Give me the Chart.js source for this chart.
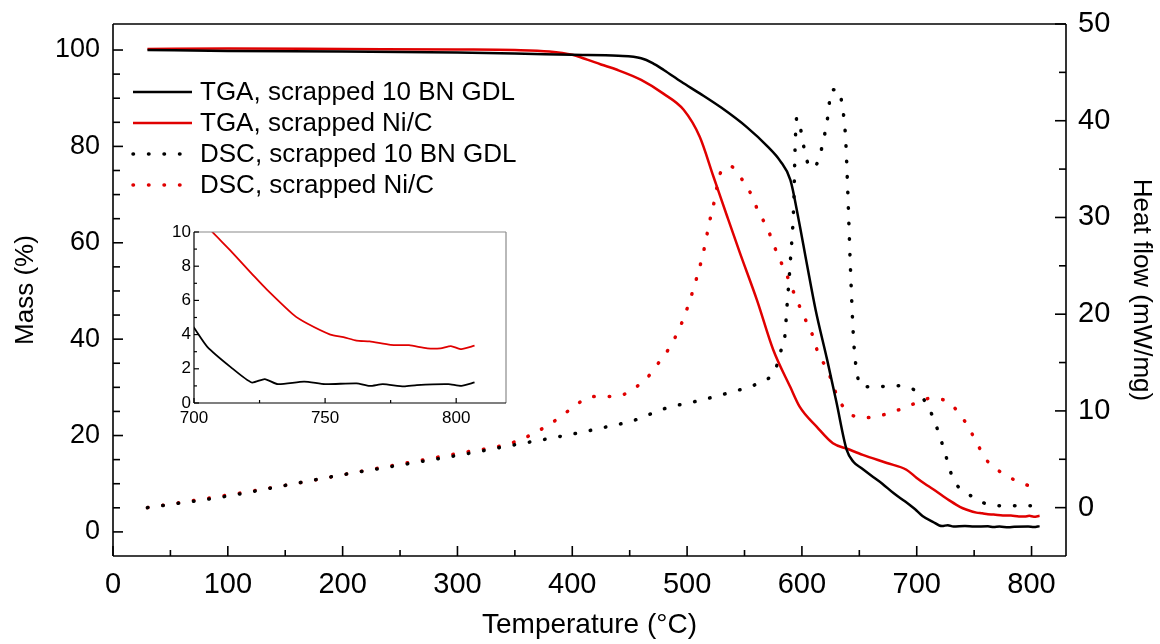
<!DOCTYPE html>
<html>
<head>
<meta charset="utf-8">
<script src="https://cdn.jsdelivr.net/npm/chart.js@4.4.1/dist/chart.umd.min.js"></script>
<style>
  html, body { margin: 0; padding: 0; background: #fff; }
  #wrap { position: relative; width: 1160px; height: 644px; }
  #main { position: absolute; left: 0; top: 0; }
  #inset { position: absolute; left: 150px; top: 222px; }
</style>
</head>
<body>
<div id="wrap">
  <canvas id="main" width="1160" height="644"></canvas>
  <canvas id="inset" width="370" height="215"></canvas>
</div>
<script>
// TGA, scrapped 10 BN GDL (mass %)
const tgaBnTemp = [30, 100, 200, 300, 350, 400, 440, 460, 470, 480, 495, 511, 530, 552, 570, 581, 590, 597, 604, 612, 622, 630, 639, 645, 652, 662, 670, 680, 690, 697, 700, 705, 714, 722, 727, 732, 742, 750, 762, 767, 772, 780, 785, 797, 802, 807];
const tgaBnMass = [100, 99.8, 99.7, 99.5, 99.3, 99.0, 98.8, 98.3, 97.3, 95.8, 93.4, 91, 88, 84, 80, 77, 73, 65, 56, 46, 35.7, 27, 17, 14.5, 13.2, 11.4, 10.0, 8.0, 6.3, 5.0, 4.4, 3.3, 2.1, 1.2, 1.4, 1.1, 1.25, 1.1, 1.15, 1.0, 1.1, 0.97, 1.05, 1.1, 1.0, 1.2];

// TGA, scrapped Ni/C (mass %)
const tgaNiTemp = [30, 100, 200, 300, 350, 380, 400, 413, 425, 439, 460, 479, 497, 511, 523, 535, 546, 561, 575, 590, 598, 613, 627, 640, 653, 674, 691, 700, 707, 714, 723, 728, 738, 743, 752, 757, 762, 767, 775, 782, 789, 794, 798, 802, 807];
const tgaNiMass = [100.2, 100.3, 100.2, 100.1, 100.0, 99.7, 99.0, 98.0, 97.0, 95.9, 93.8, 91, 87.6, 82, 73.7, 65.4, 57.9, 48, 37.8, 30, 26, 21.8, 18.4, 17.2, 16, 14.3, 12.9, 11.2, 10.0, 8.9, 7.4, 6.6, 5.15, 4.66, 4.0, 3.85, 3.65, 3.6, 3.4, 3.38, 3.2, 3.2, 3.33, 3.15, 3.35];

// DSC, scrapped 10 BN GDL (heat flow mW/mg)
const dscBnTemp = [30, 100, 150, 200, 250, 300, 350, 400, 424, 453, 482, 508, 537, 564, 577, 581, 585, 587, 590, 593, 594, 595.5, 598.5, 604, 610, 616, 622, 626, 632, 635, 638, 640, 642, 645, 648, 652, 665, 680, 694, 706, 714, 723, 732, 744, 758, 773, 790, 799];
const dscBnHeat = [0, 1.2, 2.3, 3.4, 4.4, 5.4, 6.5, 7.6, 8.2, 9.0, 10.3, 11.0, 11.9, 13.0, 14.3, 16, 17.6, 20.8, 25.6, 31.8, 37, 40.3, 39.3, 36, 35.1, 36.6, 40, 43.2, 43.2, 41.6, 38.3, 32.5, 25.6, 17.4, 13.9, 12.5, 12.5, 12.6, 12.4, 11.2, 9.4, 6.3, 2.9, 1.5, 0.5, 0.2, 0.2, 0.2];

// DSC, scrapped Ni/C (heat flow mW/mg)
const dscNiTemp = [30, 100, 150, 200, 250, 300, 350, 380, 400, 412, 424, 439, 452, 465, 476, 485, 492, 498, 507, 514, 520, 523, 529, 537.5, 548, 557, 562, 570, 575, 581, 587, 592, 598, 604, 610, 614, 622, 632, 643, 656, 671, 684, 699, 712, 726, 738, 746, 754, 762, 777, 790, 805];
const dscNiHeat = [0, 1.3, 2.3, 3.4, 4.5, 5.6, 6.8, 8.6, 10.3, 11.3, 11.5, 11.5, 12.2, 13.4, 15.1, 16.6, 18.2, 19.9, 23.2, 26.3, 29.8, 31.3, 34.6, 35.3, 33.9, 32.1, 30.6, 28.9, 27.3, 25.6, 24, 22.5, 20.8, 19.2, 17.6, 16, 14.3, 11.2, 9.6, 9.3, 9.6, 10.1, 10.8, 11.3, 11.0, 9.6, 8.1, 6.3, 4.75, 3.4, 2.6, 2.0];

const seriesLabels = ['TGA, scrapped 10 BN GDL', 'TGA, scrapped Ni/C', 'DSC, scrapped 10 BN GDL', 'DSC, scrapped Ni/C'];

const xTicks = [0, 100, 200, 300, 400, 500, 600, 700, 800];
const massTicks = [0, 20, 40, 60, 80, 100];
const heatTicks = [0, 10, 20, 30, 40, 50];
const insetXTicks = [700, 750, 800];
const insetYTicks = [0, 2, 4, 6, 8, 10];

const RED = '#e00000';
const BLACK = '#000000';
const SANS = "'Liberation Sans', Arial, sans-serif";

function pts(xs, ys) { return xs.map((x, i) => ({x: x, y: ys[i]})); }
function fixedTicks(list) { return scale => { scale.ticks = list.map(v => ({value: v})); }; }
// fixed box size, and no extra room for overhanging labels
function boxSize(w, h) {
  return s => {
    if (w !== null) s.width = w;
    if (h !== null) s.height = h;
    s.paddingTop = 0; s.paddingBottom = 0; s.paddingLeft = 0; s.paddingRight = 0;
  };
}

// frame + inward tick marks
const frameTicks = {
  id: 'frameTicks',
  afterDatasetsDraw(chart, args, opts) {
    const ctx = chart.ctx, a = chart.chartArea;
    ctx.save();
    ctx.lineWidth = opts.lineWidth;
    ctx.lineCap = 'butt';
    const sides = [
      ['top', a.left, a.top, a.right, a.top],
      ['right', a.right, a.top, a.right, a.bottom],
      ['bottom', a.left, a.bottom, a.right, a.bottom],
      ['left', a.left, a.top, a.left, a.bottom]
    ];
    for (const s of sides) {
      ctx.strokeStyle = opts.colors[s[0]];
      ctx.beginPath(); ctx.moveTo(s[1], s[2]); ctx.lineTo(s[3], s[4]); ctx.stroke();
    }
    ctx.strokeStyle = '#000';
    for (const m of opts.marks) {
      const sc = chart.scales[m.id];
      for (let v = m.from; v <= m.to + 1e-9; v += m.step) {
        const r = v / m.major;
        const len = Math.abs(r - Math.round(r)) < 1e-6 ? m.long : m.short;
        const p = sc.getPixelForValue(v);
        ctx.beginPath();
        if (m.side === 'bottom') { ctx.moveTo(p, a.bottom); ctx.lineTo(p, a.bottom - len); }
        if (m.side === 'left') { ctx.moveTo(a.left, p); ctx.lineTo(a.left + len, p); }
        if (m.side === 'right') { ctx.moveTo(a.right, p); ctx.lineTo(a.right - len, p); }
        ctx.stroke();
      }
    }
    ctx.restore();
  }
};

// legend drawn inside the plot area
const innerLegend = {
  id: 'innerLegend',
  afterDatasetsDraw(chart, args, opts) {
    if (!opts.show) return;
    const ctx = chart.ctx, a = chart.chartArea;
    ctx.save();
    ctx.font = opts.font;
    ctx.textBaseline = 'middle';
    chart.data.datasets.forEach((ds, i) => {
      const y = a.top + opts.top + i * opts.gap;
      const x0 = a.left + opts.left;
      ctx.strokeStyle = ds.borderColor;
      ctx.lineWidth = ds.borderWidth;
      ctx.lineCap = ds.borderCapStyle || 'butt';
      ctx.setLineDash(ds.borderDash || []);
      ctx.beginPath(); ctx.moveTo(x0, y); ctx.lineTo(x0 + opts.len, y); ctx.stroke();
      ctx.setLineDash([]);
      ctx.fillStyle = '#000';
      ctx.fillText(ds.label, x0 + opts.len + 8, y + 1);
    });
    ctx.restore();
  }
};

const solid = {borderWidth: 2.5, pointRadius: 0, cubicInterpolationMode: 'monotone', fill: false};
const dotted = {borderWidth: 3.5, pointRadius: 0, borderDash: [0.5, 15], borderCapStyle: 'round', cubicInterpolationMode: 'monotone', fill: false};

new Chart(document.getElementById('main'), {
  type: 'line',
  data: {
    datasets: [
      Object.assign({label: seriesLabels[0], data: pts(tgaBnTemp, tgaBnMass), borderColor: BLACK, yAxisID: 'mass'}, solid),
      Object.assign({label: seriesLabels[1], data: pts(tgaNiTemp, tgaNiMass), borderColor: RED, yAxisID: 'mass'}, solid),
      Object.assign({label: seriesLabels[2], data: pts(dscBnTemp, dscBnHeat), borderColor: BLACK, yAxisID: 'heat'}, dotted),
      Object.assign({label: seriesLabels[3], data: pts(dscNiTemp, dscNiHeat), borderColor: RED, yAxisID: 'heat'}, dotted)
    ]
  },
  options: {
    responsive: false,
    animation: false,
    events: [],
    layout: {padding: {top: 24, left: 0, right: 0, bottom: 0}},
    plugins: {
      legend: {display: false},
      tooltip: {enabled: false},
      frameTicks: {
        lineWidth: 1.6,
        colors: {top: '#000', right: '#000', bottom: '#000', left: '#000'},
        marks: [
          {id: 'x', side: 'bottom', from: 0, to: 800, step: 50, major: 100, long: 10, short: 6},
          {id: 'mass', side: 'left', from: 0, to: 100, step: 5, major: 20, long: 10, short: 7},
          {id: 'heat', side: 'right', from: 0, to: 50, step: 5, major: 10, long: 11, short: 7}
        ]
      },
      innerLegend: {show: true, font: '26px ' + SANS, top: 68, gap: 31, left: 20, len: 59}
    },
    scales: {
      x: {
        type: 'linear', min: 0, max: 830,
        afterBuildTicks: fixedTicks(xTicks),
        afterFit: boxSize(null, 88),
        grid: {display: false, drawTicks: false},
        border: {display: false},
        ticks: {color: '#000', padding: 12, maxRotation: 0, autoSkip: false, font: {family: SANS, size: 29}},
        title: {display: true, text: 'Temperature (°C)', color: '#000', padding: {top: 0, bottom: 2}, font: {family: SANS, size: 28, lineHeight: 1.2}}
      },
      mass: {
        type: 'linear', position: 'left', min: -5, max: 105.4,
        afterBuildTicks: fixedTicks(massTicks),
        afterFit: boxSize(113, null),
        grid: {display: false, drawTicks: false},
        border: {display: false},
        ticks: {color: '#000', padding: 13, font: {family: SANS, size: 27}},
        title: {display: true, text: 'Mass (%)', color: '#000', padding: {top: 10, bottom: 0}, font: {family: SANS, size: 26, lineHeight: 1.2}}
      },
      heat: {
        type: 'linear', position: 'right', min: -5, max: 50,
        afterBuildTicks: fixedTicks(heatTicks),
        afterFit: boxSize(94, null),
        grid: {display: false, drawTicks: false},
        border: {display: false},
        ticks: {color: '#000', padding: 12, font: {family: SANS, size: 29}},
        title: {display: true, text: 'Heat flow (mW/mg)', color: '#000', padding: {top: 3, bottom: 0}, font: {family: SANS, size: 26, lineHeight: 1.2}}
      }
    }
  },
  plugins: [frameTicks, innerLegend]
});

// inset: zoom of the TGA tails
new Chart(document.getElementById('inset'), {
  type: 'line',
  data: {
    datasets: [
      {label: seriesLabels[0], data: pts(tgaBnTemp, tgaBnMass), borderColor: BLACK, borderWidth: 1.8, pointRadius: 0, tension: 0.2},
      {label: seriesLabels[1], data: pts(tgaNiTemp, tgaNiMass), borderColor: RED, borderWidth: 1.8, pointRadius: 0, tension: 0.2}
    ]
  },
  options: {
    responsive: false,
    animation: false,
    events: [],
    layout: {padding: {top: 10, right: 14, left: 0, bottom: 0}},
    plugins: {
      legend: {display: false},
      tooltip: {enabled: false},
      innerLegend: {show: false},
      frameTicks: {
        lineWidth: 1.2,
        colors: {top: '#8a8a8a', right: '#8a8a8a', bottom: '#000', left: '#000'},
        marks: [
          {id: 'x', side: 'bottom', from: 700, to: 800, step: 25, major: 50, long: 5, short: 3},
          {id: 'y', side: 'left', from: 0, to: 10, step: 1, major: 2, long: 5, short: 3}
        ]
      }
    },
    scales: {
      x: {
        type: 'linear', min: 700, max: 819,
        afterBuildTicks: fixedTicks(insetXTicks),
        afterFit: boxSize(null, 34),
        grid: {display: false, drawTicks: false},
        border: {display: false},
        ticks: {color: '#000', padding: 5, maxRotation: 0, autoSkip: false, font: {family: SANS, size: 17}}
      },
      y: {
        type: 'linear', min: 0, max: 10,
        afterBuildTicks: fixedTicks(insetYTicks),
        afterFit: boxSize(44, null),
        grid: {display: false, drawTicks: false},
        border: {display: false},
        ticks: {color: '#000', padding: 3, font: {family: SANS, size: 17}}
      }
    }
  },
  plugins: [frameTicks, innerLegend]
});
</script>
</body>
</html>
